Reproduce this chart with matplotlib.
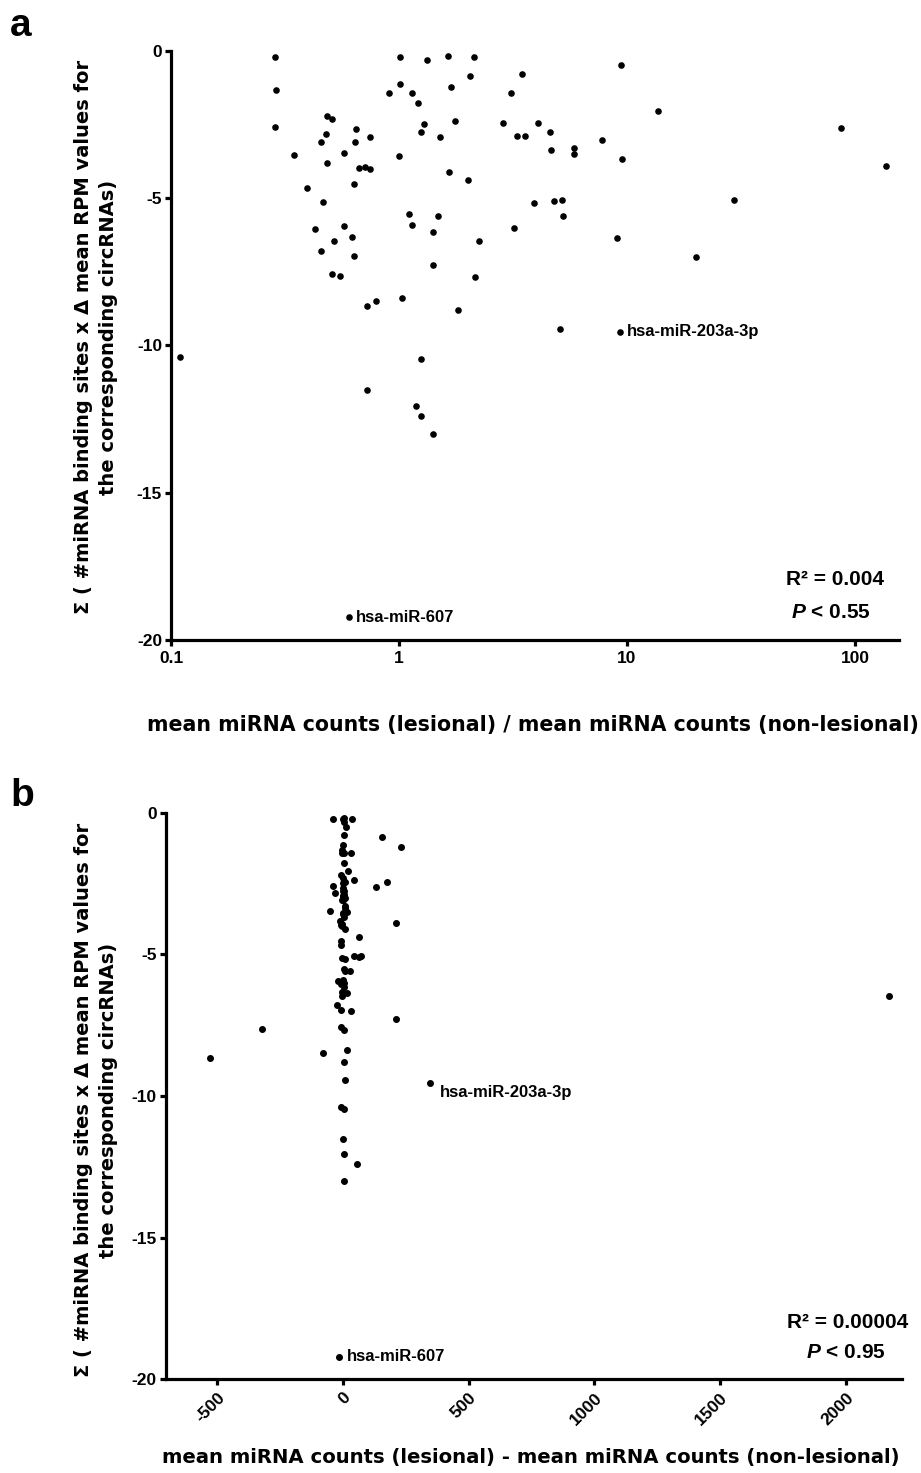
import matplotlib
matplotlib.use('Agg')
import matplotlib.pyplot as plt

plt.rcParams['font.family'] = ['Liberation Sans', 'DejaVu Sans']
plt.rcParams['font.weight'] = 'bold'
plt.rcParams['axes.unicode_minus'] = False
plt.rcParams['mathtext.fontset'] = 'custom'
plt.rcParams['mathtext.it'] = 'Liberation Sans:bold:italic'
plt.rcParams['mathtext.rm'] = 'Liberation Sans:bold'

# mean counts ratio (lesional / non-lesional)
ratio = [0.286, 0.289, 0.286, 0.346, 0.394, 0.429, 0.455, 0.455, 0.479, 0.483,
         0.464, 0.483, 0.508, 0.519, 0.508, 0.551, 0.574, 0.574, 0.622, 0.635,
         0.635, 0.641, 0.648, 0.668, 0.710, 0.746, 0.746, 0.725, 0.793, 1.01,
         1.01, 0.904, 1.14, 1.21, 1.00, 1.29, 1.25, 1.03, 1.11, 1.14,
         1.33, 1.51, 1.41, 1.48, 1.41, 1.64, 1.69, 1.76, 1.66, 1.82,
         2.13, 2.05, 3.46, 3.10, 2.86, 4.07, 3.30, 3.57, 4.59, 4.64,
         5.86, 5.86, 7.76, 9.50, 9.41, 13.7, 86.9, 137, 2.01, 3.91,
         4.79, 5.19, 5.24, 29.4, 3.19, 9.04, 2.24, 20.1, 2.15, 5.08,
         9.31, 0.109, 1.25, 0.725, 1.19, 1.25, 1.41, 0.604]

# mean counts difference (lesional - non-lesional)
diff = [-40, -4, -40, -1, -8, -8, -24, -2, -32, -12,
        -2, -8, -1, -2, -8, -322, -52, -20, -2, -8,
        -8, -1, -1, -6, -4, -3, -1, -529, -80, 0,
        0, -2, 4, 4, 0, 2, 1, 16, 4, 2,
        4, 2, 4, 8, 211, 4, 231, 44, 8, 4,
        36, 155, 4, 32, 8, 175, 3, 4, 4, 8,
        8, 16, 8, 6, 12, 20, 131, 211, 64, 8,
        64, 44, 28, 70, 4, 16, 2170, 32, 4, 8,
        346, -8, 4, -1, 4, 56, 4, -16]

# sum(#binding sites x delta mean RPM)
score = [-0.20, -1.32, -2.58, -3.53, -4.65, -6.04, -6.79, -3.09, -2.82, -3.80,
         -5.13, -2.21, -2.31, -6.45, -7.57, -7.64, -3.46, -5.94, -6.32, -6.96,
         -4.52, -3.09, -2.65, -3.97, -3.94, -4.01, -2.92, -8.66, -8.49, -0.20,
         -1.12, -1.43, -1.43, -1.77, -3.57, -2.48, -2.75, -8.39, -5.53, -5.91,
         -0.31, -2.92, -6.15, -5.60, -7.27, -0.17, -1.22, -2.38, -4.11, -8.79,
         -0.20, -0.85, -0.78, -1.43, -2.44, -2.44, -2.89, -2.89, -2.75, -3.36,
         -3.29, -3.50, -3.02, -3.67, -0.48, -2.04, -2.61, -3.90, -4.38, -5.16,
         -5.09, -5.06, -5.60, -5.06, -6.01, -6.35, -6.45, -6.99, -7.67, -9.44,
         -9.54, -10.39, -10.46, -11.51, -12.05, -12.39, -13.0, -19.22]

labels = {80: 'hsa-miR-203a-3p', 87: 'hsa-miR-607'}

ylabel = 'Σ ( #miRNA binding sites x Δ mean RPM values for\nthe corresponding circRNAs)'
xlabel_a = 'mean miRNA counts (lesional) / mean miRNA counts (non-lesional)'
xlabel_b = 'mean miRNA counts (lesional) - mean miRNA counts (non-lesional)'
stats_a = ['R² = 0.004', r'$\mathit{P}$ < 0.55']
stats_b = ['R² = 0.00004', r'$\mathit{P}$ < 0.95']

fig = plt.figure(figsize=(9.21, 14.73), dpi=100)
ax1 = fig.add_axes([0.1857, 0.5655, 0.7904, 0.3999])
ax2 = fig.add_axes([0.1802, 0.0638, 0.7991, 0.3843])


def style(ax):
    for s in ['top', 'right']:
        ax.spines[s].set_visible(False)
    for s in ['left', 'bottom']:
        ax.spines[s].set_linewidth(2.3)
    ax.tick_params(width=2.3, length=4.5, labelsize=12.5, direction='out')
    ax.tick_params(axis='y', pad=2)
    ax.tick_params(which='minor', length=0)
    ax.set_ylim(-20, 0)
    ax.set_yticks([0, -5, -10, -15, -20])
    for t in ax.get_xticklabels() + ax.get_yticklabels():
        t.set_fontweight('bold')


ax1.scatter(ratio, score, s=14, color='black', clip_on=False, zorder=3)
ax1.set_xscale('log')
ax1.set_xlim(0.1, 156)
ax1.set_xticks([0.1, 1, 10, 100])
ax1.set_xticklabels(['0.1', '1', '10', '100'])
style(ax1)

ax2.scatter(diff, score, s=16, color='black', clip_on=False, zorder=3)
ax2.set_xlim(-704, 2223)
ax2.set_xticks([-500, 0, 500, 1000, 1500, 2000])
style(ax2)
for t in ax2.get_xticklabels():
    t.set_rotation(45)
    t.set_ha('right')
    t.set_rotation_mode('anchor')

# point labels
ax1.annotate(labels[80], (ratio[80], score[80]), xytext=(5, 0), textcoords='offset points',
             va='center', fontsize=12, fontweight='bold')
ax1.annotate(labels[87], (ratio[87], score[87]), xytext=(5, 0), textcoords='offset points',
             va='center', fontsize=12, fontweight='bold')
ax2.annotate(labels[80], (diff[80], score[80]), xytext=(7, -7), textcoords='offset points',
             va='center', fontsize=12, fontweight='bold')
ax2.annotate(labels[87], (diff[87], score[87]), xytext=(6, 0), textcoords='offset points',
             va='center', fontsize=12, fontweight='bold')

# stats
fig.text(835 / 921, 1 - 580 / 1473, stats_a[0], ha='center', va='center', fontsize=15, fontweight='bold')
fig.text(831 / 921, 1 - 613 / 1473, stats_a[1], ha='center', va='center', fontsize=15, fontweight='bold')
fig.text(848 / 921, 1 - 1322 / 1473, stats_b[0], ha='center', va='center', fontsize=15, fontweight='bold')
fig.text(846 / 921, 1 - 1353 / 1473, stats_b[1], ha='center', va='center', fontsize=15, fontweight='bold')

# axis labels
for ypix in [337, 1100]:
    fig.text(96 / 921, 1 - ypix / 1473, ylabel, rotation=90, ha='center', va='center',
             multialignment='center', fontsize=14, fontweight='bold', family='DejaVu Sans',
             linespacing=1.45)
fig.text(533 / 921, 1 - 725 / 1473, xlabel_a, ha='center', va='center', fontsize=14.8,
         fontweight='bold', family='DejaVu Sans')
fig.text(531 / 921, 1 - 1458 / 1473, xlabel_b, ha='center', va='center', fontsize=14.1,
         fontweight='bold', family='DejaVu Sans')

fig.text(10 / 921, 1 - 8 / 1473, 'a', ha='left', va='top', fontsize=28, fontweight='bold')
fig.text(10 / 921, 1 - 778 / 1473, 'b', ha='left', va='top', fontsize=28, fontweight='bold')

fig.savefig('out.png', dpi=100)
